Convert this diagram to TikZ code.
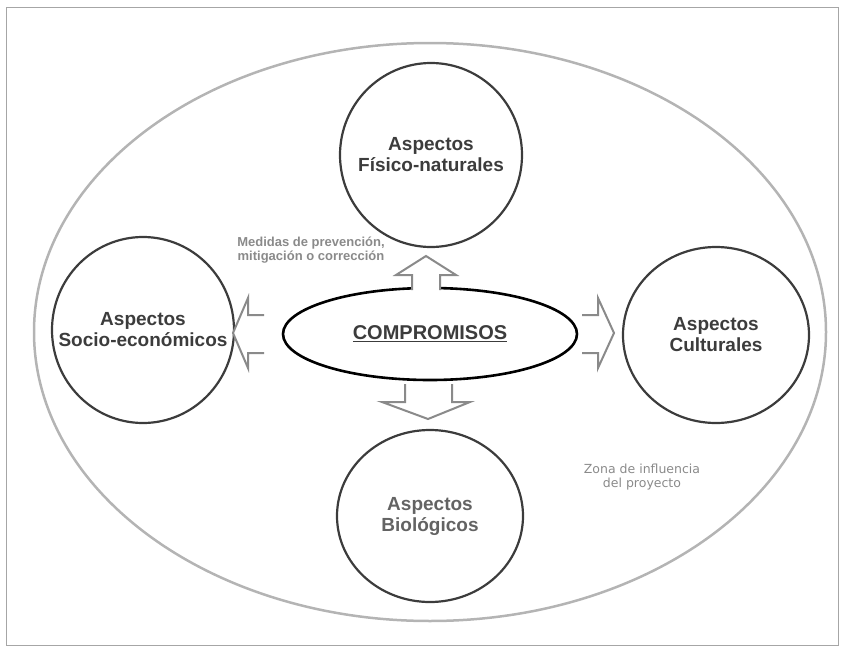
\documentclass[tikz,border=0pt]{standalone}
\usepackage{fontspec}
\setmainfont{Liberation Sans}
\newfontfamily\zonafont{DejaVu Sans}
\usetikzlibrary{shapes.geometric}
\definecolor{ltgray}{HTML}{B4B4B4}
\definecolor{dkgray}{HTML}{3C3C3C}
\definecolor{txgray}{HTML}{8A8A8A}
\tikzset{
  aspect/.style={ellipse, draw=dkgray, line width=2.2pt, inner sep=0pt},
  aspecttext/.style={align=center, inner sep=0pt, font=\bfseries\fontsize{19}{21}\selectfont, text=dkgray},
  blockarrow/.style={draw=txgray, line width=2pt, fill=white, line join=miter},
  note/.style={align=center, text=txgray}
}
\begin{document}
\begin{tikzpicture}[x=1pt,y=-1pt]
\useasboundingbox (0,0) rectangle (841,653);
\draw[draw=gray!70, line width=1pt] (6,7) rectangle (838,645);
\node[ellipse, draw=ltgray, line width=2.5pt, minimum width=792pt, minimum height=578pt] (zona) at (430,332) {};
\node[aspect, minimum width=182pt, minimum height=184pt] (fis) at (431,155) {};
\node[aspecttext] (fist) at (fis) {Aspectos\\Físico-naturales};
\node[aspect, minimum width=182pt, minimum height=186pt] (soc) at (143,330) {};
\node[aspecttext] (soct) at (soc) {Aspectos\\Socio-económicos};
\node[aspect, minimum width=186pt, minimum height=176pt] (cul) at (716,335) {};
\node[aspecttext] (cult) at (cul) {Aspectos\\Culturales};
\node[aspect, minimum width=186pt, minimum height=172pt] (bio) at (430,516) {};
\node[aspecttext, text=dkgray!80] (biot) at (bio) {Aspectos\\Biológicos};
\node[ellipse, draw=black, line width=2.6pt, minimum width=294pt, minimum height=92pt, font=\bfseries\fontsize{20}{24}\selectfont, text=dkgray] (comp) at (430,334) {\underline{COMPROMISOS}};
% up arrow
\draw[blockarrow] (412,290) -- (412,275) -- (396,275) -- (426,256) -- (456,275) -- (440,275) -- (440,290);
% down arrow
\draw[blockarrow] (405,384) -- (405,402) -- (382,402) -- (428,419) -- (470,402) -- (452,402) -- (452,384);
% left arrow
\draw[blockarrow] (264,315) -- (248,315) -- (248,298) -- (233,333) -- (248,368) -- (248,353) -- (264,353);
% right arrow
\draw[blockarrow] (582,315) -- (598,315) -- (598,298) -- (614,333) -- (598,368) -- (598,353) -- (582,353);
\node[note, font=\bfseries\fontsize{13}{14.5}\selectfont] (med) at (311,250) {Medidas de prevención,\\mitigación o corrección};
\node[note, font=\zonafont\fontsize{12.5}{14.5}\selectfont] (zon) at (642,477) {Zona de influencia\\del proyecto};
\end{tikzpicture}
\end{document}
